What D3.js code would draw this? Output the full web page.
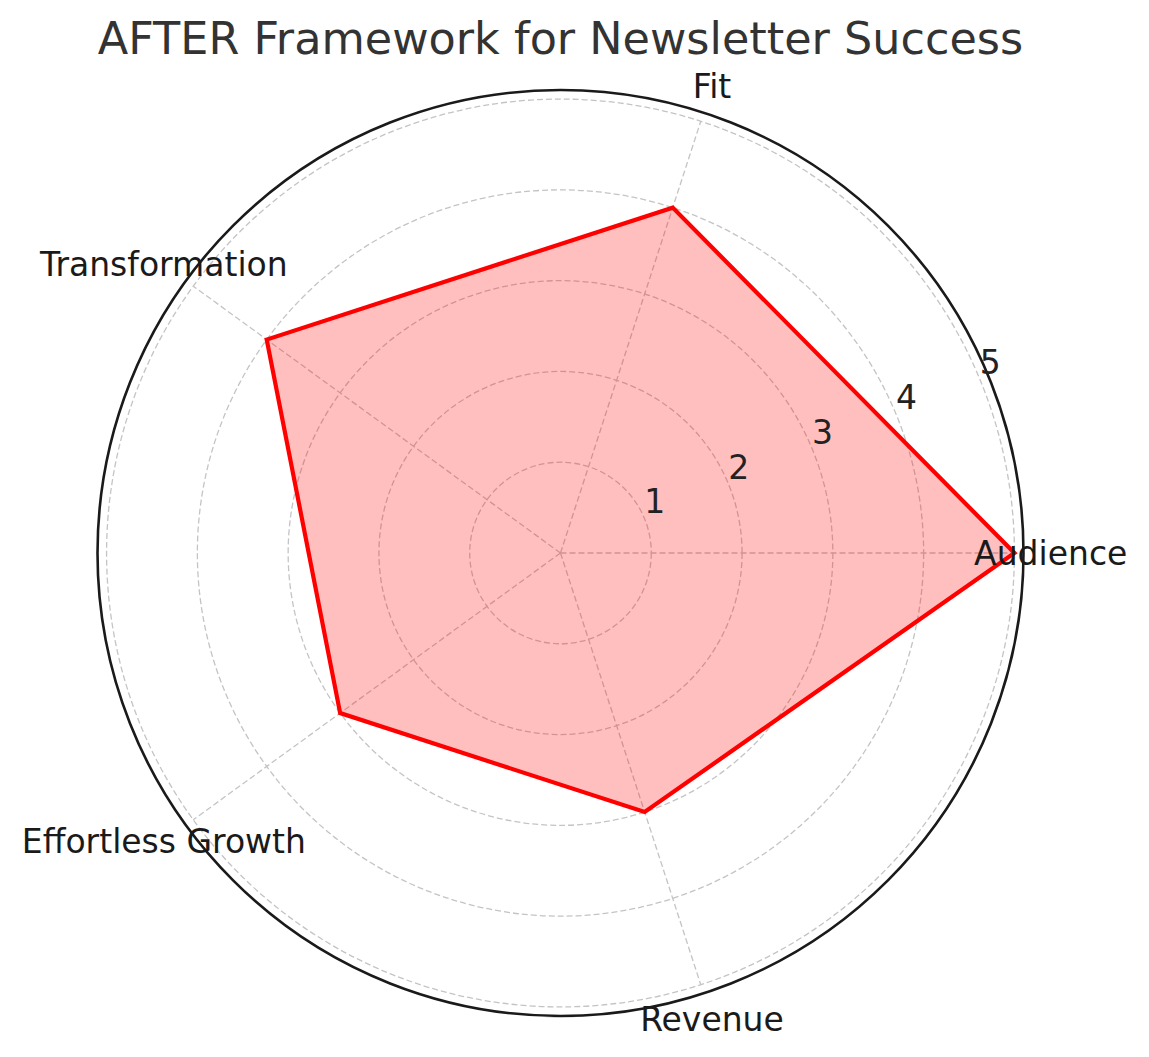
<!DOCTYPE html>
<html>
<head>
<meta charset="utf-8">
<script src="https://cdn.jsdelivr.net/npm/d3@7"></script>
<style>
  html, body { margin: 0; padding: 0; background: #fff; }
  svg { display: block; font-family: "DejaVu Sans", sans-serif; }
</style>
</head>
<body>
<svg id="chart" width="1149" height="1057"></svg>
<script>
// data
const categories = ["Audience", "Fit", "Transformation", "Effortless Growth", "Revenue"];
const scores = [5, 4, 4, 3, 3];
const radialTicks = [1, 2, 3, 4, 5];
const chartTitle = "AFTER Framework for Newsletter Success";

const width = 1149, height = 1057;
const cx = 560.5, cy = 553;
const rMax = 5.1;

const svg = d3.select("#chart");

const r = d3.scaleLinear().domain([0, rMax]).range([0, 463]);
// matplotlib style angle: 0 = east, counter-clockwise
const theta = d3.scaleLinear().domain([0, categories.length]).range([0, 2 * Math.PI]);

const px = (a, v) => cx + r(v) * Math.cos(a);
const py = (a, v) => cy - r(v) * Math.sin(a);

const g = svg.append("g");

// circular grid
g.selectAll("circle.grid")
  .data(radialTicks)
  .join("circle")
  .attr("class", "grid")
  .attr("cx", cx).attr("cy", cy)
  .attr("r", d => r(d))
  .attr("fill", "none")
  .attr("stroke", "#c4c4c4")
  .attr("stroke-width", 1.3)
  .attr("stroke-dasharray", "6,3");

// spokes
g.selectAll("line.spoke")
  .data(categories)
  .join("line")
  .attr("class", "spoke")
  .attr("x1", cx).attr("y1", cy)
  .attr("x2", (d, i) => px(theta(i), d3.max(radialTicks)))
  .attr("y2", (d, i) => py(theta(i), d3.max(radialTicks)))
  .attr("stroke", "#c4c4c4")
  .attr("stroke-width", 1.3)
  .attr("stroke-dasharray", "6,3");

// polygon
const radar = d3.lineRadial()
  .angle((d, i) => Math.PI / 2 - theta(i))
  .radius(d => r(d))
  .curve(d3.curveLinearClosed);

g.append("path")
  .datum(scores)
  .attr("transform", `translate(${cx},${cy})`)
  .attr("d", radar)
  .attr("fill", "rgb(255,0,0)")
  .attr("fill-opacity", 0.25)
  .attr("stroke", "none");

g.append("path")
  .datum(scores)
  .attr("transform", `translate(${cx},${cy})`)
  .attr("d", radar)
  .attr("fill", "none")
  .attr("stroke", "#ff0000")
  .attr("stroke-width", 4.2)
  .attr("stroke-linejoin", "miter");

// outer frame
g.append("circle")
  .attr("cx", cx).attr("cy", cy)
  .attr("r", r(rMax))
  .attr("fill", "none")
  .attr("stroke", "#1a1a1a")
  .attr("stroke-width", 2.6);

// radial tick labels at 22.5 deg
const labelAngle = 22.5 * Math.PI / 180;
g.selectAll("text.rtick")
  .data(radialTicks)
  .join("text")
  .attr("class", "rtick")
  .attr("x", d => px(labelAngle, d))
  .attr("y", d => py(labelAngle, d) - 5)
  .attr("text-anchor", "start")
  .attr("font-size", 33)
  .attr("fill", "#222")
  .text(d => d);

// category labels
g.selectAll("text.cat")
  .data(categories)
  .join("text")
  .attr("class", "cat")
  .attr("x", (d, i) => px(theta(i), 5.4))
  .attr("y", (d, i) => py(theta(i), 5.4))
  .attr("text-anchor", "middle")
  .attr("dominant-baseline", "central")
  .attr("font-size", 33)
  .attr("fill", "#1a1a1a")
  .text(d => d);

// title
svg.append("text")
  .attr("x", cx)
  .attr("y", 54)
  .attr("text-anchor", "middle")
  .attr("font-size", 44.5)
  .attr("fill", "#333")
  .text(chartTitle);
</script>
</body>
</html>
